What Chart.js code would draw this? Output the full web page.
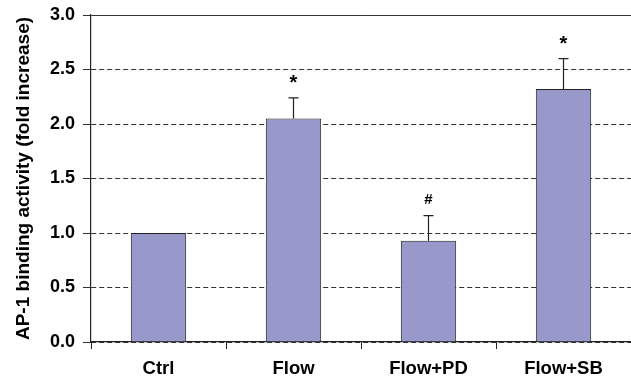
<!DOCTYPE html>
<html>
<head>
<meta charset="utf-8">
<script src="https://cdn.jsdelivr.net/npm/chart.js@4"></script>
<style>
  html, body { margin: 0; padding: 0; background: #fff; }
  #wrap { width: 631px; height: 383px; }
</style>
</head>
<body>
<div id="wrap"><canvas id="myChart" width="631" height="383"></canvas></div>
<script>
// datos
const categories = ['Ctrl', 'Flow', 'Flow+PD', 'Flow+SB'];
const means = [1.0, 2.05, 0.93, 2.32];
const errors = [0, 0.19, 0.23, 0.28];
const marks = ['', '*', '#', '*'];
const yTicks = [0, 0.5, 1.0, 1.5, 2.0, 2.5, 3.0];

const FONT = "'Liberation Sans', Arial, sans-serif";

// barras de error y simbolos encima
const errorBarPlugin = {
  id: 'errorBars',
  afterDatasetsDraw(chart) {
    const ctx = chart.ctx;
    const y = chart.scales.y;
    const meta = chart.getDatasetMeta(0);
    ctx.save();
    ctx.strokeStyle = '#222';
    ctx.lineWidth = 1.2;
    meta.data.forEach((bar, i) => {
      const x = bar.x;
      const top = y.getPixelForValue(means[i] + errors[i]);
      if (errors[i] > 0) {
        ctx.beginPath();
        ctx.moveTo(x, bar.y);
        ctx.lineTo(x, top);
        ctx.moveTo(x - 5, top);
        ctx.lineTo(x + 5, top);
        ctx.stroke();
      }
      if (marks[i]) {
        ctx.fillStyle = '#000';
        ctx.textAlign = 'center';
        ctx.textBaseline = 'middle';
        ctx.font = (marks[i] === '*' ? 'bold 20px ' : 'bold 15px ') + FONT;
        ctx.fillText(marks[i], x, top - (marks[i] === '*' ? 14 : 16));
      }
    });
    ctx.restore();
  }
};

const ctx = document.getElementById('myChart').getContext('2d');
new Chart(ctx, {
  type: 'bar',
  data: {
    labels: categories,
    datasets: [{
      data: means,
      backgroundColor: '#9898ca',
      borderColor: '#222',
      borderWidth: 1,
      barPercentage: 0.41,
      categoryPercentage: 1.0
    }]
  },
  options: {
    responsive: false,
    animation: false,
    layout: { padding: { left: 0, right: 0, top: 15, bottom: 0 } },
    plugins: {
      legend: { display: false },
      tooltip: { enabled: false }
    },
    scales: {
      x: {
        offset: true,
        grid: {
          offset: true,
          drawOnChartArea: false,
          drawTicks: true,
          tickLength: 7,
          color: '#222'
        },
        border: { color: '#222', width: 1.2 },
        ticks: {
          color: '#000',
          padding: 9,
          font: { family: FONT, size: 18.5, weight: 'bold' }
        },
        afterFit(scale) { scale.height = 41; }
      },
      y: {
        min: 0,
        max: 3,
        afterBuildTicks(scale) { scale.ticks = yTicks.map(v => ({ value: v })); },
        grid: {
          color: '#333',
          lineWidth: 1,
          tickLength: 8,
          tickBorderDash: [],
          drawTicks: true
        },
        border: {
          color: '#222',
          width: 1.2,
          dash: (c) => (c.tick && c.tick.value === 3 ? [] : [5, 3])
        },
        ticks: {
          color: '#000',
          padding: 8,
          font: { family: FONT, size: 18, weight: 'bold' },
          callback: (v) => Number(v).toFixed(1)
        },
        title: {
          display: true,
          text: 'AP-1 binding activity (fold increase)',
          color: '#000',
          padding: { top: 12, bottom: 0 },
          font: { family: FONT, size: 19, weight: 'bold' }
        },
        afterFit(scale) {
          scale.width = 91;
          scale.paddingTop = 0;
          scale.paddingBottom = 0;
        }
      }
    }
  },
  plugins: [errorBarPlugin]
});
</script>
</body>
</html>
